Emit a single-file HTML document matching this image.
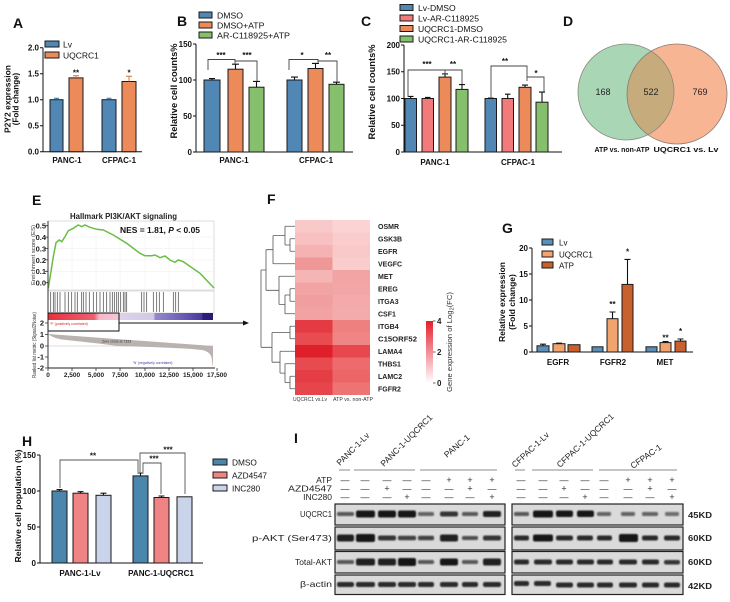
<!DOCTYPE html>
<html><head><meta charset="utf-8"><style>
html,body{margin:0;padding:0;background:#fff;}
svg{display:block;font-family:"Liberation Sans",Arial,sans-serif;}
.b{font-weight:bold;}
</style></head><body>
<svg width="730" height="602" viewBox="0 0 730 602" xmlns="http://www.w3.org/2000/svg">
<defs>
<filter id="bl" x="-30%" y="-100%" width="160%" height="300%"><feGaussianBlur stdDeviation="0.8"/></filter>
<linearGradient id="gsea" x1="48" y1="0" x2="213" y2="0" gradientUnits="userSpaceOnUse">
<stop offset="0" stop-color="#e8303c"/><stop offset="0.28" stop-color="#ee6072"/><stop offset="0.31" stop-color="#f5b8c8"/><stop offset="0.43" stop-color="#f2c8d6"/><stop offset="0.44" stop-color="#dcd3ea"/><stop offset="0.64" stop-color="#d0c8e6"/><stop offset="0.65" stop-color="#9488cc"/><stop offset="0.76" stop-color="#7a6cc0"/><stop offset="0.93" stop-color="#4a3aa0"/><stop offset="0.94" stop-color="#2c1c7c"/><stop offset="1" stop-color="#2a1a78"/>
</linearGradient>
<linearGradient id="hmcb" x1="0" y1="0" x2="0" y2="1">
<stop offset="0" stop-color="#e41f2b"/><stop offset="1" stop-color="#ffffff"/>
</linearGradient>
<clipPath id="cg"><circle cx="626" cy="92" r="48"/></clipPath>
</defs>
<rect width="730" height="602" fill="#fff"/>

<!-- Panel letters -->
<g class="b" font-size="14" fill="#111">
<text x="13" y="28">A</text>
<text x="177" y="26">B</text>
<text x="361" y="26">C</text>
<text x="563" y="26">D</text>
<text x="32" y="205">E</text>
<text x="267" y="204">F</text>
<text x="502" y="233">G</text>
<text x="22" y="446">H</text>
<text x="294" y="443">I</text>
</g>

<!-- ============ PANEL A ============ -->
<g stroke="#111" stroke-width="1" fill="none">
<path d="M43,47.7 V151.7 H142"/>
<path d="M40,47.7H43 M40,73.7H43 M40,99.7H43 M40,125.7H43 M40,151.7H43"/>
</g>
<g class="b" font-size="8" text-anchor="end" fill="#111">
<text x="39" y="50.5">2.0</text><text x="39" y="76.5">1.5</text><text x="39" y="102.5">1.0</text><text x="39" y="128.5">0.5</text><text x="39" y="154.5">0.0</text>
</g>
<g stroke="#1a1a1a" stroke-width="1">
<rect x="50" y="99.7" width="13" height="52" fill="#5187b5"/>
<rect x="69" y="77.9" width="14" height="73.8" fill="#ec8a5a"/>
<rect x="102" y="99.7" width="14" height="52" fill="#5187b5"/>
<rect x="122" y="81.5" width="14" height="70.2" fill="#ec8a5a"/>
</g>
<g stroke-width="1" fill="none">
<path d="M56.5,99.7V98.2M54,98.2H59" stroke="#3a6e9a"/>
<path d="M76,77.9V75.8M73,75.8H79" stroke="#d0703f"/>
<path d="M109,99.7V98.2M106.5,98.2H111.5" stroke="#3a6e9a"/>
<path d="M129,81.5V76.3M126,76.3H132" stroke="#d0703f"/>
</g>
<g class="b" font-size="8" text-anchor="middle" fill="#111">
<text x="76" y="75.5">**</text><text x="129" y="75.5">*</text>
<text x="67" y="163">PANC-1</text><text x="119" y="163">CFPAC-1</text>
</g>
<rect x="45" y="41" width="14" height="6" fill="#5187b5" stroke="#1a1a1a" stroke-width="1"/>
<rect x="45" y="52" width="14" height="6" fill="#ec8a5a" stroke="#1a1a1a" stroke-width="1"/>
<g font-size="8.5" fill="#111"><text x="63" y="47.5">Lv</text><text x="63" y="58.5">UQCRC1</text></g>
<g class="b" font-size="8" text-anchor="middle" fill="#111">
<text transform="translate(10.5,99) rotate(-90)" textLength="68" lengthAdjust="spacingAndGlyphs">P2Y2 expression</text>
<text transform="translate(18.5,99) rotate(-90)">(Fold change)</text>
</g>

<!-- ============ PANEL B ============ -->
<g stroke="#111" stroke-width="1" fill="none">
<path d="M196,44 V152 H353"/>
<path d="M193,44H196 M193,80H196 M193,116H196 M193,152H196"/>
</g>
<g class="b" font-size="8" text-anchor="end" fill="#111">
<text x="192" y="47">150</text><text x="192" y="83">100</text><text x="192" y="119">50</text><text x="192" y="155">0</text>
</g>
<g stroke="#1a1a1a" stroke-width="1">
<rect x="204" y="80" width="16" height="72" fill="#5187b5"/>
<rect x="228" y="69.2" width="15" height="82.8" fill="#ec8a5a"/>
<rect x="249" y="87.2" width="15" height="64.8" fill="#86c06c"/>
<rect x="287" y="80" width="15" height="72" fill="#5187b5"/>
<rect x="308" y="68.5" width="15" height="83.5" fill="#ec8a5a"/>
<rect x="329" y="84.3" width="15" height="67.7" fill="#86c06c"/>
</g>
<g stroke="#111" stroke-width="1.1" fill="none">
<path d="M212,80V78.6M209,78.6H215"/>
<path d="M235.5,69.2V64.2M232,64.2H239"/>
<path d="M256.5,87.2V81.4M253,81.4H260"/>
<path d="M294.5,80V77.1M291,77.1H298"/>
<path d="M315.5,68.5V63.4M312,63.4H319"/>
<path d="M336.5,84.3V82.2M333,82.2H340"/>
</g>
<g stroke="#444" stroke-width="0.9" fill="none">
<path d="M208,70V59.5H235V64"/><path d="M235,61H257V81"/>
<path d="M289,70V59.5H318V63"/><path d="M318,61H337V82"/>
</g>
<g class="b" font-size="8" text-anchor="middle" fill="#111">
<text x="221" y="58">***</text><text x="247" y="58">***</text>
<text x="302" y="58">*</text><text x="328" y="58">**</text>
<text x="234" y="163">PANC-1</text><text x="316" y="163">CFPAC-1</text>
</g>
<g stroke="#1a1a1a" stroke-width="1">
<rect x="199" y="12" width="13" height="6" fill="#5187b5"/>
<rect x="199" y="22" width="13" height="6" fill="#ec8a5a"/>
<rect x="199" y="32" width="13" height="6" fill="#86c06c"/>
</g>
<g font-size="8.7" fill="#111">
<text x="217" y="18.5">DMSO</text><text x="217" y="28.5">DMSO+ATP</text><text x="217" y="38.5" textLength="73" lengthAdjust="spacingAndGlyphs">AR-C118925+ATP</text>
</g>
<text class="b" font-size="9" text-anchor="middle" fill="#111" transform="translate(177,91) rotate(-90)" textLength="95" lengthAdjust="spacingAndGlyphs">Relative cell counts%</text>

<!-- ============ PANEL C ============ -->
<g stroke="#111" stroke-width="1" fill="none">
<path d="M404,45 V152 H562"/>
<path d="M401,45H404 M401,71.75H404 M401,98.5H404 M401,125.25H404 M401,152H404"/>
</g>
<g class="b" font-size="8" text-anchor="end" fill="#111">
<text x="400" y="48">200</text><text x="400" y="74.7">150</text><text x="400" y="101.5">100</text><text x="400" y="128.2">50</text><text x="400" y="155">0</text>
</g>
<g stroke="#1a1a1a" stroke-width="1">
<rect x="405" y="98.5" width="11.5" height="53.5" fill="#5187b5"/>
<rect x="422" y="98.5" width="11.5" height="53.5" fill="#f37a7a"/>
<rect x="439" y="77.1" width="12" height="74.9" fill="#ec8a5a"/>
<rect x="456" y="89.4" width="12" height="62.6" fill="#86c06c"/>
<rect x="485" y="98.5" width="11.5" height="53.5" fill="#5187b5"/>
<rect x="502" y="98.5" width="11.5" height="53.5" fill="#f37a7a"/>
<rect x="519" y="87.3" width="12" height="64.7" fill="#ec8a5a"/>
<rect x="536" y="102.2" width="12" height="49.8" fill="#86c06c"/>
</g>
<g stroke="#111" stroke-width="1.1" fill="none">
<path d="M410.7,98.5V96.4M408,96.4H413.5"/>
<path d="M427.7,98.5V97.4M425,97.4H430.5"/>
<path d="M445,77.1V73.9M442,73.9H448"/>
<path d="M462,89.4V84.6M459,84.6H465"/>
<path d="M490.7,98.5V98M488,98H493.5"/>
<path d="M507.7,98.5V94.2M505,94.2H510.5"/>
<path d="M525,87.3V85.1M522,85.1H528"/>
<path d="M542,102.2V92.1M539,92.1H545"/>
</g>
<g stroke="#444" stroke-width="0.9" fill="none">
<path d="M408,97V70H445V75"/><path d="M445,70H462V84"/>
<path d="M491,97V66H527V81"/><path d="M527,77H544V92"/>
</g>
<g class="b" font-size="8" text-anchor="middle" fill="#111">
<text x="427" y="67">***</text><text x="453" y="67">**</text>
<text x="505" y="64">**</text><text x="536" y="76">*</text>
<text x="435" y="165">PANC-1</text><text x="518" y="165">CFPAC-1</text>
</g>
<g stroke="#1a1a1a" stroke-width="1">
<rect x="400" y="4.5" width="13" height="6" fill="#5187b5"/>
<rect x="400" y="15" width="13" height="6" fill="#f37a7a"/>
<rect x="400" y="25.5" width="13" height="6" fill="#ec8a5a"/>
<rect x="400" y="36" width="13" height="6" fill="#86c06c"/>
</g>
<g font-size="8.6" fill="#111">
<text x="418" y="11">Lv-DMSO</text><text x="418" y="21.5">Lv-AR-C118925</text><text x="418" y="32">UQCRC1-DMSO</text><text x="418" y="42.5" textLength="89" lengthAdjust="spacingAndGlyphs">UQCRC1-AR-C118925</text>
</g>
<text class="b" font-size="9" text-anchor="middle" fill="#111" transform="translate(375,92) rotate(-90)" textLength="95" lengthAdjust="spacingAndGlyphs">Relative cell counts%</text>

<!-- ============ PANEL D ============ -->
<circle cx="626" cy="92" r="48" fill="#a9d7b5"/>
<circle cx="677" cy="94" r="50" fill="#f8b594"/>
<circle cx="677" cy="94" r="50" fill="#c6ab7c" clip-path="url(#cg)"/>
<circle cx="626" cy="92" r="48" fill="none" stroke="#8a8a7a" stroke-width="0.8"/>
<circle cx="677" cy="94" r="50" fill="none" stroke="#8a7a70" stroke-width="0.8"/>
<g font-size="9" text-anchor="middle" fill="#222">
<text x="603" y="95">168</text><text x="651" y="95">522</text><text x="700" y="95">769</text>
</g>
<g class="b" font-size="7" text-anchor="middle" fill="#111">
<text x="622" y="152" textLength="55" lengthAdjust="spacingAndGlyphs">ATP vs. non-ATP</text>
<text x="686" y="152" textLength="65" lengthAdjust="spacingAndGlyphs">UQCRC1 vs. Lv</text>
</g>

<!-- ============ PANEL E ============ -->
<text class="b" font-size="8" text-anchor="middle" fill="#222" x="123.5" y="219" textLength="107" lengthAdjust="spacingAndGlyphs">Hallmark PI3K/AKT signaling</text>
<rect x="48" y="221" width="166" height="69" fill="#fff" stroke="#cfcfcf" stroke-width="0.7"/>
<g stroke="#eeeeee" stroke-width="0.5">
<path d="M72,222V289M96,222V289M120,222V289M145,222V289M169,222V289M193,222V289"/>
<path d="M49,237.1H213M49,248.5H213M49,259.9H213M49,271.3H213"/>
</g>
<text class="b" font-size="8.5" fill="#111" x="120" y="233" textLength="80" lengthAdjust="spacingAndGlyphs">NES = 1.81, <tspan font-style="italic">P</tspan> &lt; 0.05</text>
<polyline fill="none" stroke="#6cbd45" stroke-width="1.5" points="48.3,288.3 50.7,273.3 53.3,256.7 56,242.7 59.3,240 61.7,241.7 65,236.7 68.3,230.7 73.3,228.3 78.3,225 81.7,226.7 85,225 90,227.3 96.7,229.3 103.3,230 113.3,235 126.7,243.3 140,253.3 145,255.7 151.7,255.7 155,255 160,257.7 165,256 170,260 175,262.3 178.3,260 183.3,261.7 200,273.3 214,288"/>
<g class="b" font-size="7.5" text-anchor="end" fill="#222">
<text x="46" y="228.5">0.5</text><text x="46" y="240">0.4</text><text x="46" y="251.4">0.3</text><text x="46" y="262.8">0.2</text><text x="46" y="274.2">0.1</text><text x="46" y="285.6">0.0</text>
</g>
<g stroke="#333" stroke-width="0.8">
<path d="M45,225.7H48M45,237.1H48M45,248.5H48M45,259.9H48M45,271.3H48M45,282.7H48"/>
</g>
<rect x="48" y="291" width="166" height="22" fill="#fff" stroke="#cfcfcf" stroke-width="0.7"/>
<g stroke="#444" stroke-width="0.7">
<path d="M50.7,292V312M53.3,292V312M55,292V312M57.3,292V312M60,292V312M65,292V312M68.3,292V312M71.7,292V312M75,292V312M77.3,292V312M81.7,292V312M83.3,292V312M86,292V312M89.3,292V312M93.3,292V312M96.7,292V312M100,292V312M103.3,292V312M106.7,292V312M110,292V312M112.3,292V312M114.3,292V312M116.7,292V312M118.3,292V312M120.7,292V312M123.3,292V312M125,292V312M126.7,292V312M141.7,292V312M144,292V312M146.7,292V312M153.3,292V312M156.7,292V312M159.3,292V312M163.3,292V312M173.3,292V312M175.7,292V312M178.3,292V312"/>
</g>
<rect x="48" y="313" width="165" height="7" fill="url(#gsea)"/>
<path d="M48,346H213" stroke="#bbb" stroke-width="0.5"/>
<path d="M48,334 C52,337 56,338.5 62,339.5 C80,341.5 100,343.5 118,346 L150,347 C170,347.8 190,348.5 202,350 C207,351 210,353 211.5,357 L213,368 L213,346 Z" fill="#b9b2ae"/>
<rect x="48" y="313" width="71" height="18" fill="none" stroke="#111" stroke-width="1"/>
<text x="50" y="325" font-size="3.5" fill="#d22">'P' (positively correlated)</text>
<text x="102" y="342.5" font-size="3.5" fill="#333">Zero cross at 7333</text>
<text x="133" y="364" font-size="3.5" fill="#4a3aa0">'N' (negatively correlated)</text>
<path d="M119,323H244" stroke="#111" stroke-width="1"/>
<polygon points="249,323 243,320.5 243,325.5" fill="#111"/>
<path d="M48,221V368H215" stroke="#222" stroke-width="0.9" fill="none"/>
<g stroke="#333" stroke-width="0.8">
<path d="M45,323H48M45,334.5H48M45,346H48M45,357H48M45,368H48"/>
<path d="M48,368V371M72,368V371M96,368V371M120,368V371M145,368V371M169,368V371M193,368V371M217,368V371"/>
</g>
<g class="b" font-size="7.5" text-anchor="end" fill="#222">
<text x="44" y="325.5">2</text><text x="44" y="337">1</text><text x="44" y="348.5">0</text><text x="44" y="359.5">-1</text><text x="44" y="370.5">-2</text>
</g>
<g class="b" font-size="6.5" text-anchor="middle" fill="#222">
<text x="48" y="377">0</text><text x="72" y="377">2,500</text><text x="96" y="377">5,000</text><text x="120" y="377">7,500</text><text x="145" y="377">10,000</text><text x="169" y="377">12,500</text><text x="193" y="377">15,000</text><text x="217" y="377">17,500</text>
</g>
<g font-size="5.5" text-anchor="middle" fill="#333">
<text transform="translate(35,255) rotate(-90)" textLength="60" lengthAdjust="spacingAndGlyphs">Enrichment score (ES)</text>
<text transform="translate(36,345) rotate(-90)" textLength="66" lengthAdjust="spacingAndGlyphs">Ranked list metric (Signal2Noise)</text>
</g>

<!-- ============ PANEL F ============ -->
<g stroke="none">
<rect x="295" y="220" width="37.5" height="12.6" fill="#f9c9c9"/><rect x="332.5" y="220" width="37.5" height="12.6" fill="#fbd3d3"/>
<rect x="295" y="232.5" width="37.5" height="12.6" fill="#f8c0c0"/><rect x="332.5" y="232.5" width="37.5" height="12.6" fill="#facccc"/>
<rect x="295" y="245" width="37.5" height="12.6" fill="#f5b2b2"/><rect x="332.5" y="245" width="37.5" height="12.6" fill="#f9c8c8"/>
<rect x="295" y="257.5" width="37.5" height="12.6" fill="#f09797"/><rect x="332.5" y="257.5" width="37.5" height="12.6" fill="#facdcd"/>
<rect x="295" y="270" width="37.5" height="12.6" fill="#f6b5b5"/><rect x="332.5" y="270" width="37.5" height="12.6" fill="#f2a3a3"/>
<rect x="295" y="282.5" width="37.5" height="12.6" fill="#f2a3a3"/><rect x="332.5" y="282.5" width="37.5" height="12.6" fill="#f3a6a6"/>
<rect x="295" y="295" width="37.5" height="12.6" fill="#f19e9e"/><rect x="332.5" y="295" width="37.5" height="12.6" fill="#f4aaaa"/>
<rect x="295" y="307.5" width="37.5" height="12.6" fill="#f2a2a2"/><rect x="332.5" y="307.5" width="37.5" height="12.6" fill="#f4abab"/>
<rect x="295" y="320" width="37.5" height="12.6" fill="#e43b42"/><rect x="332.5" y="320" width="37.5" height="12.6" fill="#ef8080"/>
<rect x="295" y="332.5" width="37.5" height="12.6" fill="#e84b50"/><rect x="332.5" y="332.5" width="37.5" height="12.6" fill="#f08585"/>
<rect x="295" y="345" width="37.5" height="12.6" fill="#df1f2a"/><rect x="332.5" y="345" width="37.5" height="12.6" fill="#e8474d"/>
<rect x="295" y="357.5" width="37.5" height="12.6" fill="#e74a4f"/><rect x="332.5" y="357.5" width="37.5" height="12.6" fill="#ed6b6d"/>
<rect x="295" y="370" width="37.5" height="12.6" fill="#e43e44"/><rect x="332.5" y="370" width="37.5" height="12.6" fill="#ec6668"/>
<rect x="295" y="382.5" width="37.5" height="12.5" fill="#e6464b"/><rect x="332.5" y="382.5" width="37.5" height="12.5" fill="#ee7373"/>
</g>
<g stroke="#555" stroke-width="0.8" fill="none">
<path d="M295,238.75H290M295,251.25H290M290,238.75V251.25"/>
<path d="M295,226.25H285M290,245H285M285,226.25V245"/>
<path d="M285,235.6H273M295,263.75H273M273,235.6V263.75"/>
<path d="M295,288.75H290M295,301.25H290M290,288.75V301.25"/>
<path d="M290,295H285M295,313.75H285M285,295V313.75"/>
<path d="M295,276.25H279M285,304.4H279M279,276.25V304.4"/>
<path d="M273,249.7H266M279,290.3H266M266,249.7V290.3"/>
<path d="M295,326.25H290M295,338.75H290M290,326.25V338.75"/>
<path d="M295,376.25H290M295,388.75H290M290,376.25V388.75"/>
<path d="M295,363.75H285M290,382.5H285M285,363.75V382.5"/>
<path d="M295,351.25H280M285,373.1H280M280,351.25V373.1"/>
<path d="M290,332.5H272M280,362.2H272M272,332.5V362.2"/>
<path d="M266,270H261M272,347.3H261M261,270V347.3"/>
</g>
<g class="b" font-size="7" fill="#222">
<text x="378" y="229">OSMR</text><text x="378" y="241.5">GSK3B</text><text x="378" y="254">EGFR</text><text x="378" y="266.5">VEGFC</text><text x="378" y="279">MET</text><text x="378" y="291.5">EREG</text><text x="378" y="304">ITGA3</text><text x="378" y="316.5">CSF1</text><text x="378" y="329">ITGB4</text><text x="378" y="341.5" textLength="39" lengthAdjust="spacingAndGlyphs">C15ORF52</text><text x="378" y="354">LAMA4</text><text x="378" y="366.5">THBS1</text><text x="378" y="379">LAMC2</text><text x="378" y="391.5">FGFR2</text>
</g>
<g font-size="5" text-anchor="middle" fill="#333">
<text x="310" y="401" textLength="34" lengthAdjust="spacingAndGlyphs">UQCRC1 vs.Lv</text>
<text x="353" y="401" textLength="40" lengthAdjust="spacingAndGlyphs">ATP vs. non-ATP</text>
</g>
<rect x="426" y="321" width="7" height="62" fill="url(#hmcb)"/>
<g stroke="#333" stroke-width="0.8"><path d="M433,321H435.5M433,352H435.5M433,383H435.5"/></g>
<g class="b" font-size="8" fill="#222"><text x="437" y="324">4</text><text x="437" y="355">2</text><text x="437" y="386">0</text></g>
<text font-size="7" text-anchor="middle" fill="#333" transform="translate(452,342) rotate(-90)" textLength="100" lengthAdjust="spacingAndGlyphs">Gene expression of Log<tspan font-size="5" dy="1.5">2</tspan><tspan dy="-1.5">(FC)</tspan></text>

<!-- ============ PANEL G ============ -->
<g stroke="#111" stroke-width="1" fill="none">
<path d="M532,248 V352 H693"/>
<path d="M529,248H532 M529,274H532 M529,300H532 M529,326H532 M529,352H532"/>
</g>
<g class="b" font-size="8" text-anchor="end" fill="#111">
<text x="528" y="251">20</text><text x="528" y="277">15</text><text x="528" y="303">10</text><text x="528" y="329">5</text><text x="528" y="355">0</text>
</g>
<g stroke="#1a1a1a" stroke-width="1">
<rect x="537" y="345.8" width="12" height="6.2" fill="#5a8fba"/>
<rect x="553" y="343.7" width="12" height="8.3" fill="#f2a46f"/>
<rect x="568" y="344.7" width="12" height="7.3" fill="#c8612d"/>
<rect x="592" y="346.8" width="11" height="5.2" fill="#5a8fba"/>
<rect x="607" y="318.7" width="11" height="33.3" fill="#f2a46f"/>
<rect x="622" y="284.4" width="11" height="67.6" fill="#c8612d"/>
<rect x="646" y="346.8" width="11" height="5.2" fill="#5a8fba"/>
<rect x="660" y="342.6" width="11" height="9.4" fill="#f2a46f"/>
<rect x="675" y="341.1" width="11" height="10.9" fill="#c8612d"/>
</g>
<g stroke="#111" stroke-width="1.1" fill="none">
<path d="M543,345.8V344.2M540,344.2H546"/>
<path d="M559,343.7V343.2M556,343.2H562"/>
<path d="M612.5,318.7V312M609.5,312H615.5"/>
<path d="M627.5,284.4V259.4M624.5,259.4H630.5"/>
<path d="M665.5,342.6V341.6M662.5,341.6H668.5"/>
<path d="M680.5,341.1V339M677.5,339H683.5"/>
</g>
<g class="b" font-size="8" text-anchor="middle" fill="#111">
<text x="612.5" y="307">**</text><text x="627.5" y="254.5">*</text><text x="665.5" y="340.5">**</text><text x="680.5" y="334">*</text>
<text x="558" y="365">EGFR</text><text x="613" y="365">FGFR2</text><text x="665" y="365">MET</text>
</g>
<g stroke="#1a1a1a" stroke-width="1">
<rect x="542" y="239" width="11" height="6" fill="#5a8fba"/>
<rect x="542" y="251" width="11" height="6" fill="#f2a46f"/>
<rect x="542" y="262" width="11" height="6" fill="#c8612d"/>
</g>
<g font-size="8" fill="#111"><text x="559" y="245.5">Lv</text><text x="559" y="257.5">UQCRC1</text><text x="559" y="268.5">ATP</text></g>
<g class="b" font-size="8.5" text-anchor="middle" fill="#111">
<text transform="translate(505,302) rotate(-90)" textLength="80" lengthAdjust="spacingAndGlyphs">Relative expression</text>
<text transform="translate(515,302) rotate(-90)">(Fold change)</text>
</g>

<!-- ============ PANEL H ============ -->
<g stroke="#111" stroke-width="1" fill="none">
<path d="M40,455 V563 H203"/>
<path d="M37,455H40 M37,491H40 M37,527H40 M37,563H40"/>
</g>
<g class="b" font-size="8" text-anchor="end" fill="#111">
<text x="36" y="458">150</text><text x="36" y="494">100</text><text x="36" y="530">50</text><text x="36" y="566">0</text>
</g>
<g stroke="#1a1a1a" stroke-width="1">
<rect x="52" y="491" width="15" height="72" fill="#4b87ad"/>
<rect x="73" y="493.2" width="15" height="69.8" fill="#f08484"/>
<rect x="96" y="495.3" width="15" height="67.7" fill="#c9d3ea"/>
<rect x="133" y="475.9" width="15" height="87.1" fill="#4b87ad"/>
<rect x="154" y="497.5" width="15" height="65.5" fill="#f08484"/>
<rect x="177" y="496.8" width="15" height="66.2" fill="#c9d3ea"/>
</g>
<g stroke="#111" stroke-width="1.1" fill="none">
<path d="M59.5,491V489.6M56.5,489.6H62.5"/>
<path d="M80.5,493.2V491.7M77.5,491.7H83.5"/>
<path d="M103.5,495.3V493.2M100.5,493.2H106.5"/>
<path d="M140.5,475.9V473M137.5,473H143.5"/>
<path d="M161.5,497.5V496M158.5,496H164.5"/>
</g>
<g stroke="#555" stroke-width="0.9" fill="none">
<path d="M60,488V460H138V472"/>
<path d="M140,472V453H185V494"/>
<path d="M143,472V463H161V494"/>
</g>
<g class="b" font-size="8" text-anchor="middle" fill="#111">
<text x="93" y="458.5">**</text><text x="168" y="452.5">***</text><text x="154" y="461.5">***</text>
<text x="80" y="576">PANC-1-Lv</text><text x="161" y="576">PANC-1-UQCRC1</text>
</g>
<g stroke="#1a1a1a" stroke-width="1">
<rect x="213" y="459" width="14" height="6" fill="#4b87ad"/>
<rect x="213" y="472" width="14" height="6" fill="#f08484"/>
<rect x="213" y="485" width="14" height="6" fill="#c9d3ea"/>
</g>
<g font-size="8.3" fill="#111"><text x="232" y="465.5">DMSO</text><text x="232" y="478.5">AZD4547</text><text x="232" y="491.5">INC280</text></g>
<text class="b" font-size="8.5" text-anchor="middle" fill="#111" transform="translate(21,506) rotate(-90)" textLength="113" lengthAdjust="spacingAndGlyphs">Relative cell population (%)</text>

<!-- ============ PANEL I ============ -->
<g font-size="8.5" fill="#222">
<text transform="translate(340,466) rotate(-45)">PANC-1-Lv</text>
<text transform="translate(384,467) rotate(-45)">PANC-1-UQCRC1</text>
<text transform="translate(447,458) rotate(-40)">PANC-1</text>
<text transform="translate(515,468) rotate(-43)">CFPAC-1-Lv</text>
<text transform="translate(560,468) rotate(-43)">CFPAC-1-UQCRC1</text>
<text transform="translate(633,469) rotate(-35)">CFPAC-1</text>
</g>
<g stroke="#666" stroke-width="0.8">
<path d="M339,470H350M354,470H415M420,470H497M515,470H525M532,470H593M599,470H677"/>
</g>
<g font-size="8.5" text-anchor="end" fill="#222">
<text x="332" y="483">ATP</text><text x="332" y="491.5" textLength="44" lengthAdjust="spacingAndGlyphs">AZD4547</text><text x="332" y="500">INC280</text>
</g>
<g font-size="9" text-anchor="middle" fill="#333">
<!-- ATP row -->
<text x="345" y="483">—</text><text x="365" y="483">—</text><text x="387" y="483">—</text><text x="407" y="483">—</text><text x="426" y="483">—</text><text x="449" y="483">+</text><text x="470" y="483">+</text><text x="492" y="483">+</text>
<text x="521" y="483">—</text><text x="543" y="483">—</text><text x="564" y="483">—</text><text x="585" y="483">—</text><text x="604" y="483">—</text><text x="628" y="483">+</text><text x="650" y="483">+</text><text x="672" y="483">+</text>
<!-- AZD row -->
<text x="345" y="491.5">—</text><text x="365" y="491.5">—</text><text x="387" y="491.5">+</text><text x="407" y="491.5">—</text><text x="426" y="491.5">—</text><text x="449" y="491.5">—</text><text x="470" y="491.5">+</text><text x="492" y="491.5">—</text>
<text x="521" y="491.5">—</text><text x="543" y="491.5">—</text><text x="564" y="491.5">+</text><text x="585" y="491.5">—</text><text x="604" y="491.5">—</text><text x="628" y="491.5">—</text><text x="650" y="491.5">+</text><text x="672" y="491.5">—</text>
<!-- INC row -->
<text x="345" y="500">—</text><text x="365" y="500">—</text><text x="387" y="500">—</text><text x="407" y="500">+</text><text x="426" y="500">—</text><text x="449" y="500">—</text><text x="470" y="500">—</text><text x="492" y="500">+</text>
<text x="521" y="500">—</text><text x="543" y="500">—</text><text x="564" y="500">—</text><text x="585" y="500">+</text><text x="604" y="500">—</text><text x="628" y="500">—</text><text x="650" y="500">—</text><text x="672" y="500">+</text>
</g>
<g font-size="8.5" text-anchor="end" fill="#222">
<text x="332" y="517" textLength="32" lengthAdjust="spacingAndGlyphs">UQCRC1</text>
<text x="332" y="541" textLength="80" lengthAdjust="spacingAndGlyphs">p-AKT (Ser473)</text>
<text x="332" y="565" textLength="37" lengthAdjust="spacingAndGlyphs">Total-AKT</text>
<text x="332" y="587" textLength="32" lengthAdjust="spacingAndGlyphs">β-actin</text>
</g>
<g class="b" font-size="8" fill="#222">
<text x="688" y="518" textLength="24" lengthAdjust="spacingAndGlyphs">45KD</text>
<text x="688" y="541" textLength="24" lengthAdjust="spacingAndGlyphs">60KD</text>
<text x="688" y="565" textLength="24" lengthAdjust="spacingAndGlyphs">60KD</text>
<text x="688" y="589" textLength="24" lengthAdjust="spacingAndGlyphs">42KD</text>
</g>
<!-- blot backgrounds -->
<g fill="#dadada" stroke="#222" stroke-width="1.2">
<rect x="335" y="504" width="170" height="21"/>
<rect x="335" y="527" width="170" height="23"/>
<rect x="335" y="551.5" width="170" height="21.5"/>
<rect x="335" y="575" width="170" height="19.5"/>
<rect x="512" y="504" width="171" height="21"/>
<rect x="512" y="527" width="171" height="23"/>
<rect x="512" y="551.5" width="171" height="21.5"/>
<rect x="512" y="575" width="171" height="19.5"/>
</g>
<g fill="#151515" filter="url(#bl)">
<!-- Left UQCRC1 -->
<rect x="337" y="512" width="17" height="4" rx="1.5" opacity="0.65"/>
<rect x="356" y="510.5" width="19" height="7" rx="2" opacity="1"/>
<rect x="378" y="510.5" width="18" height="7" rx="2" opacity="1"/>
<rect x="398" y="510.5" width="18" height="7" rx="2" opacity="1"/>
<rect x="418" y="512" width="16" height="4" rx="1.5" opacity="0.6"/>
<rect x="440" y="511.5" width="18" height="5" rx="2" opacity="0.85"/>
<rect x="462" y="512" width="16" height="4" rx="1.5" opacity="0.65"/>
<rect x="483" y="511" width="18" height="6" rx="2" opacity="0.95"/>
<!-- Left pAKT -->
<rect x="337" y="534.5" width="17" height="7" rx="2" opacity="0.95"/>
<rect x="356" y="534" width="19" height="8" rx="2" opacity="1"/>
<rect x="378" y="535.5" width="18" height="5" rx="2" opacity="0.85"/>
<rect x="398" y="535.8" width="18" height="4.5" rx="1.5" opacity="0.8"/>
<rect x="418" y="535.8" width="16" height="4.5" rx="1.5" opacity="0.75"/>
<rect x="440" y="534.5" width="18" height="7" rx="2" opacity="0.95"/>
<rect x="462" y="536" width="16" height="4" rx="1.5" opacity="0.7"/>
<rect x="483" y="535.5" width="18" height="5" rx="2" opacity="0.85"/>
<!-- Left total -->
<rect x="337" y="560" width="17" height="4" rx="1.5" opacity="0.65"/>
<rect x="356" y="558.5" width="19" height="7" rx="2" opacity="0.95"/>
<rect x="378" y="558.5" width="18" height="7" rx="2" opacity="0.95"/>
<rect x="398" y="558" width="18" height="8" rx="2" opacity="1"/>
<rect x="418" y="560" width="16" height="4" rx="1.5" opacity="0.65"/>
<rect x="440" y="558.5" width="18" height="7" rx="2" opacity="1"/>
<rect x="462" y="560" width="16" height="4" rx="1.5" opacity="0.65"/>
<rect x="483" y="558.5" width="18" height="7" rx="2" opacity="0.95"/>
<!-- Left actin -->
<rect x="337" y="582" width="17" height="5" rx="2" opacity="0.9"/>
<rect x="356" y="582" width="19" height="5" rx="2" opacity="0.9"/>
<rect x="378" y="582" width="18" height="5" rx="2" opacity="0.9"/>
<rect x="398" y="582" width="18" height="5" rx="2" opacity="0.9"/>
<rect x="418" y="582" width="16" height="5" rx="2" opacity="0.9"/>
<rect x="440" y="582" width="18" height="5" rx="2" opacity="0.9"/>
<rect x="462" y="582" width="16" height="5" rx="2" opacity="0.9"/>
<rect x="483" y="582" width="18" height="5" rx="2" opacity="0.9"/>
<!-- Right UQCRC1 -->
<rect x="514" y="512" width="15" height="4" rx="1.5" opacity="0.65"/>
<rect x="533" y="510.5" width="20" height="7" rx="2" opacity="1"/>
<rect x="556" y="510.5" width="17" height="6.5" rx="2" opacity="1"/>
<rect x="577" y="510.5" width="17" height="6.5" rx="2" opacity="1"/>
<rect x="597" y="512" width="14" height="4" rx="1.5" opacity="0.6"/>
<rect x="621" y="512" width="14" height="4" rx="1.5" opacity="0.6"/>
<rect x="642" y="512" width="16" height="4" rx="1.5" opacity="0.6"/>
<rect x="665" y="512" width="14" height="4" rx="1.5" opacity="0.55"/>
<!-- Right pAKT -->
<rect x="514" y="535.5" width="15" height="5" rx="2" opacity="0.9"/>
<rect x="533" y="534.5" width="20" height="7" rx="2" opacity="1"/>
<rect x="556" y="535.5" width="17" height="5" rx="2" opacity="0.9"/>
<rect x="577" y="535.5" width="16" height="5" rx="2" opacity="0.9"/>
<rect x="597" y="535.5" width="15" height="5" rx="2" opacity="0.9"/>
<rect x="619" y="534" width="19" height="8" rx="2" opacity="1"/>
<rect x="642" y="535.5" width="16" height="5" rx="2" opacity="0.9"/>
<rect x="664" y="535.5" width="16" height="5" rx="2" opacity="0.9"/>
<!-- Right total -->
<rect x="514" y="559.5" width="15" height="5" rx="2" opacity="0.9"/>
<rect x="534" y="559.5" width="18" height="5" rx="2" opacity="0.9"/>
<rect x="556" y="559.5" width="17" height="5" rx="2" opacity="0.9"/>
<rect x="577" y="559.5" width="17" height="5" rx="2" opacity="0.9"/>
<rect x="597" y="559.5" width="16" height="5" rx="2" opacity="0.9"/>
<rect x="619" y="559.5" width="18" height="5" rx="2" opacity="0.9"/>
<rect x="642" y="559.5" width="17" height="5" rx="2" opacity="0.9"/>
<rect x="664" y="560" width="16" height="4.5" rx="2" opacity="0.85"/>
<!-- Right actin -->
<rect x="514" y="581" width="15" height="5" rx="2" opacity="0.9"/>
<rect x="534" y="581" width="17" height="5" rx="2" opacity="0.9"/>
<rect x="556" y="582.5" width="17" height="5" rx="2" opacity="0.9"/>
<rect x="577" y="582.5" width="17" height="5" rx="2" opacity="0.9"/>
<rect x="597" y="582.5" width="16" height="5" rx="2" opacity="0.9"/>
<rect x="619" y="582.5" width="18" height="5" rx="2" opacity="0.9"/>
<rect x="642" y="582.5" width="17" height="5" rx="2" opacity="0.9"/>
<rect x="664" y="582.5" width="16" height="5" rx="2" opacity="0.9"/>
</g>
</svg>
</body></html>
